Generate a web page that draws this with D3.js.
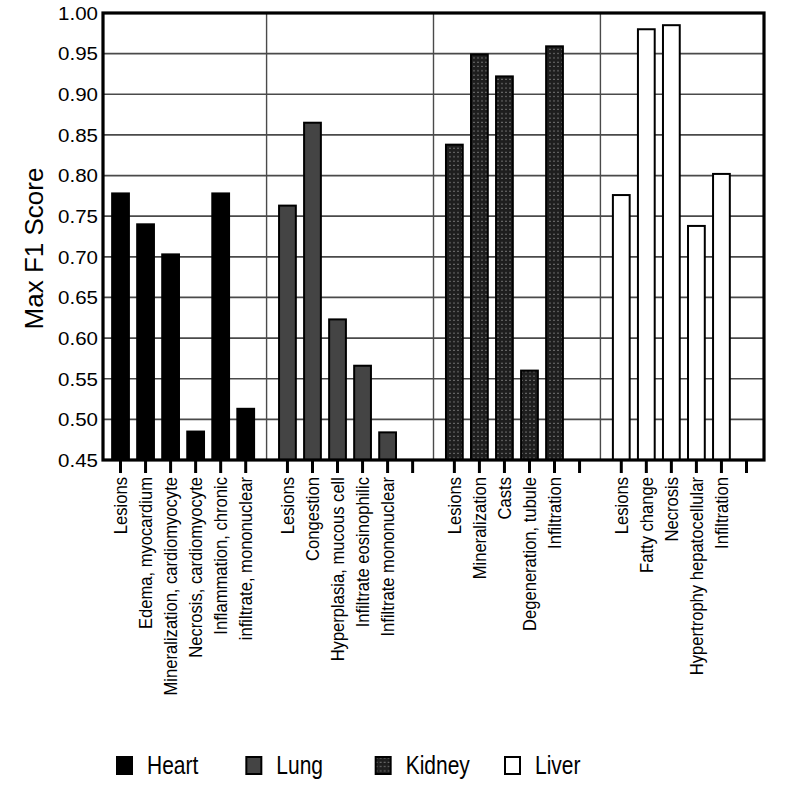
<!DOCTYPE html>
<html>
<head>
<meta charset="utf-8">
<script src="https://cdn.jsdelivr.net/npm/d3@7.9.0/dist/d3.min.js"></script>
<style>
  body { margin: 0; background: #fff; }
  svg text { font-family: "Liberation Sans", Arial, sans-serif; fill: #000; }
</style>
</head>
<body>
<svg id="chart" width="788" height="798"></svg>
<script>
const groups = ["Heart", "Lung", "Kidney", "Liver"];

const heartLabels = ["Lesions", "Edema, myocardium", "Mineralization, cardiomyocyte",
  "Necrosis, cardiomyocyte", "Inflammation, chronic", "infiltrate, mononuclear"];
const heartScores = [0.778, 0.740, 0.703, 0.485, 0.778, 0.513];

const lungLabels = ["Lesions", "Congestion", "Hyperplasia, mucous cell",
  "Infiltrate eosinophilic", "Infiltrate mononuclear", ""];
const lungScores = [0.763, 0.865, 0.623, 0.566, 0.484, null];

const kidneyLabels = ["Lesions", "Mineralization", "Casts", "Degeneration, tubule", "Infiltration", ""];
const kidneyScores = [0.838, 0.949, 0.922, 0.560, 0.959, null];

const liverLabels = ["Lesions", "Fatty change", "Necrosis", "Hypertrophy hepatocellular", "Infiltration", ""];
const liverScores = [0.776, 0.980, 0.985, 0.738, 0.802, null];

const yTicks = [0.45, 0.50, 0.55, 0.60, 0.65, 0.70, 0.75, 0.80, 0.85, 0.90, 0.95, 1.00];

const labelsByGroup = [heartLabels, lungLabels, kidneyLabels, liverLabels];
const scoresByGroup = [heartScores, lungScores, kidneyScores, liverScores];

// build rows for drawing
let rows = [];
groups.forEach((g, gi) => {
  labelsByGroup[gi].forEach((label, i) => {
    rows.push({ group: g, slot: i, label: label, value: scoresByGroup[gi][i] });
  });
});

const svg = d3.select("#chart");
const plotLeft = 103, plotRight = 764, plotTop = 13, plotBottom = 460;

// kidney dotted pattern
const defs = svg.append("defs");
const pat = defs.append("pattern")
  .attr("id", "dots")
  .attr("width", 4).attr("height", 4.3)
  .attr("patternUnits", "userSpaceOnUse");
pat.append("rect").attr("width", 4).attr("height", 4.3).attr("fill", "#1e1e1e");
pat.append("rect").attr("x", 1.5).attr("y", 1.5).attr("width", 1).attr("height", 1).attr("fill", "#c0c0c0");

const fills = {
  Heart: { fill: "#000", stroke: "#000" },
  Lung: { fill: "#444", stroke: "#000" },
  Kidney: { fill: "url(#dots)", stroke: "#000" },
  Liver: { fill: "#fff", stroke: "#000" }
};

let y = d3.scaleLinear().domain([0.45, 1.0]).range([plotBottom, plotTop]);

let x0 = d3.scaleBand().domain(groups).range([plotLeft, plotRight])
  .paddingInner(0.1).paddingOuter(0.03);

let x1 = d3.scaleBand().domain(d3.range(6)).range([0, x0.bandwidth()])
  .paddingInner(0.33).paddingOuter(0.165);

// horizontal gridlines
svg.append("g")
  .selectAll("line")
  .data(yTicks.filter((t) => t > 0.45 && t < 1.0))
  .join("line")
  .attr("x1", plotLeft).attr("x2", plotRight)
  .attr("y1", (d) => y(d)).attr("y2", (d) => y(d))
  .attr("stroke", "#4a4a4a").attr("stroke-width", 1.7);

// group separators
svg.append("g")
  .selectAll("line")
  .data(groups.slice(1))
  .join("line")
  .attr("x1", (d) => x0(d) - x0.step() * x0.paddingInner() / 2)
  .attr("x2", (d) => x0(d) - x0.step() * x0.paddingInner() / 2)
  .attr("y1", plotTop).attr("y2", plotBottom)
  .attr("stroke", "#4a4a4a").attr("stroke-width", 1.4);

// bars
svg.append("g")
  .selectAll("rect")
  .data(rows.filter((d) => d.value != null))
  .join("rect")
  .attr("x", (d) => x0(d.group) + x1(d.slot))
  .attr("width", x1.bandwidth())
  .attr("y", (d) => y(d.value))
  .attr("height", (d) => y(0.45) - y(d.value))
  .attr("fill", (d) => fills[d.group].fill)
  .attr("stroke", (d) => fills[d.group].stroke)
  .attr("stroke-width", 2);

// frame
svg.append("rect")
  .attr("x", plotLeft).attr("y", plotTop)
  .attr("width", plotRight - plotLeft).attr("height", plotBottom - plotTop)
  .attr("fill", "none").attr("stroke", "#000").attr("stroke-width", 3.2);

// y axis labels
svg.append("g")
  .selectAll("text")
  .data(yTicks)
  .join("text")
  .attr("transform", (d) => `translate(${plotLeft - 5},${y(d)}) scale(1.08,1)`)
  .attr("dy", "0.36em")
  .attr("text-anchor", "end")
  .style("font-size", "19px")
  .text((d) => d3.format(".2f")(d));

// x ticks
svg.append("g")
  .selectAll("line")
  .data(rows)
  .join("line")
  .attr("x1", (d) => x0(d.group) + x1(d.slot) + x1.bandwidth() / 2)
  .attr("x2", (d) => x0(d.group) + x1(d.slot) + x1.bandwidth() / 2)
  .attr("y1", plotBottom).attr("y2", plotBottom + 13)
  .attr("stroke", "#000").attr("stroke-width", 3);

// x labels (slightly stretched across, like the original export)
svg.append("g")
  .selectAll("text")
  .data(rows)
  .join("text")
  .attr("transform", (d) => {
    let cx = x0(d.group) + x1(d.slot) + x1.bandwidth() / 2;
    return `translate(${cx},${plotBottom + 17}) scale(1.12,1) rotate(-90)`;
  })
  .attr("dy", "0.35em")
  .attr("text-anchor", "end")
  .style("font-size", "16.6px")
  .text((d) => d.label);

// y title
svg.append("text")
  .attr("transform", `translate(43,${(plotTop + plotBottom) / 2 + 12}) rotate(-90)`)
  .attr("text-anchor", "middle")
  .style("font-size", "26px")
  .text("Max F1 Score");

// legend
let legendX = d3.scaleLinear().domain([0, groups.length - 1]).range([116, 504]);
let legend = svg.append("g")
  .selectAll("g")
  .data(groups)
  .join("g")
  .attr("transform", (d, i) => `translate(${legendX(i)},756)`);

legend.append("rect")
  .attr("x", 1).attr("y", 1)
  .attr("width", 15).attr("height", 17)
  .attr("fill", (d) => fills[d].fill)
  .attr("stroke", "#000").attr("stroke-width", 2);

legend.append("text")
  .attr("transform", "translate(31,18) scale(0.84,1)")
  .style("font-size", "25px")
  .text((d) => d);
</script>
</body>
</html>
